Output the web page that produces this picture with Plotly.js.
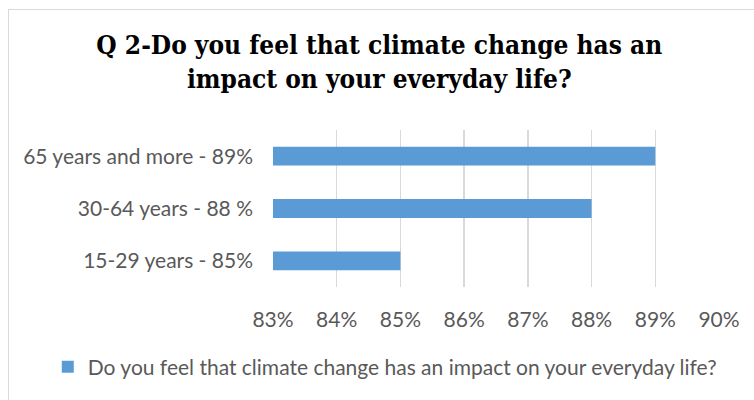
<!DOCTYPE html>
<html>
<head>
<meta charset="utf-8">
<script src="https://cdn.plot.ly/plotly-3.0.1.min.js"></script>
<style>
html,body{margin:0;padding:0;background:#fff;overflow:hidden;}
#chart{position:absolute;left:0;top:0;width:754px;height:400px;}
#frame{position:absolute;left:8px;top:9px;width:800px;height:400px;border-left:1px solid #d9d9d9;border-top:1px solid #d9d9d9;pointer-events:none;}
</style>
</head>
<body>
<div id="chart"></div>
<div id="frame"></div>
<script>
const categories = ["15-29 years - 85%", "30-64 years - 88 %", "65 years and more - 89%"];
const values = [85, 88, 89];
const tickVals = [83, 84, 85, 86, 87, 88, 89, 90];
const tickLabels = ["83%", "84%", "85%", "86%", "87%", "88%", "89%", "90%"];
const seriesName = "Do you feel that climate change has an impact on your everyday life?";
const titleText = "Q 2-Do you feel that climate change has an<br>impact on your everyday life?";

const trace = {
  type: 'bar',
  orientation: 'h',
  y: categories,
  x: values,
  name: seriesName,
  width: 0.36,
  marker: {color: '#5b9bd5'},
  showlegend: true,
  hoverinfo: 'x+y'
};

const labelFont = {family: 'Lato, Open Sans, sans-serif', size: 21, color: '#595959'};

const layout = {
  width: 754, height: 400,
  margin: {l: 273, r: 35, t: 130, b: 113},
  paper_bgcolor: '#ffffff', plot_bgcolor: '#ffffff',
  title: {
    text: titleText,
    font: {family: 'DejaVu Serif Condensed, DejaVu Serif, serif', size: 26, color: '#000000', weight: 'bold'},
    x: 0.503, xanchor: 'center', xref: 'container',
    y: 0.94, yref: 'container', yanchor: 'top', pad: {t: 30}
  },
  xaxis: {
    range: [83, 90],
    tickvals: tickVals,
    ticktext: tickLabels,
    showgrid: true, gridcolor: '#d9d9d9', gridwidth: 1.5,
    zeroline: false, showline: false, ticks: '',
    tickfont: labelFont,
    ticklabelstandoff: 18,
    fixedrange: true
  },
  yaxis: {
    type: 'category',
    showgrid: false, zeroline: false, showline: false, ticks: '',
    tickfont: labelFont,
    ticklabelstandoff: 19,
    fixedrange: true
  },
  legend: {
    orientation: 'h',
    x: -0.505, xanchor: 'left',
    y: -0.51, yanchor: 'middle',
    font: labelFont,
    bgcolor: 'rgba(0,0,0,0)'
  },
  bargap: 0.64
};

Plotly.newPlot('chart', [trace], layout, {displayModeBar: false, staticPlot: true});
</script>
</body>
</html>
